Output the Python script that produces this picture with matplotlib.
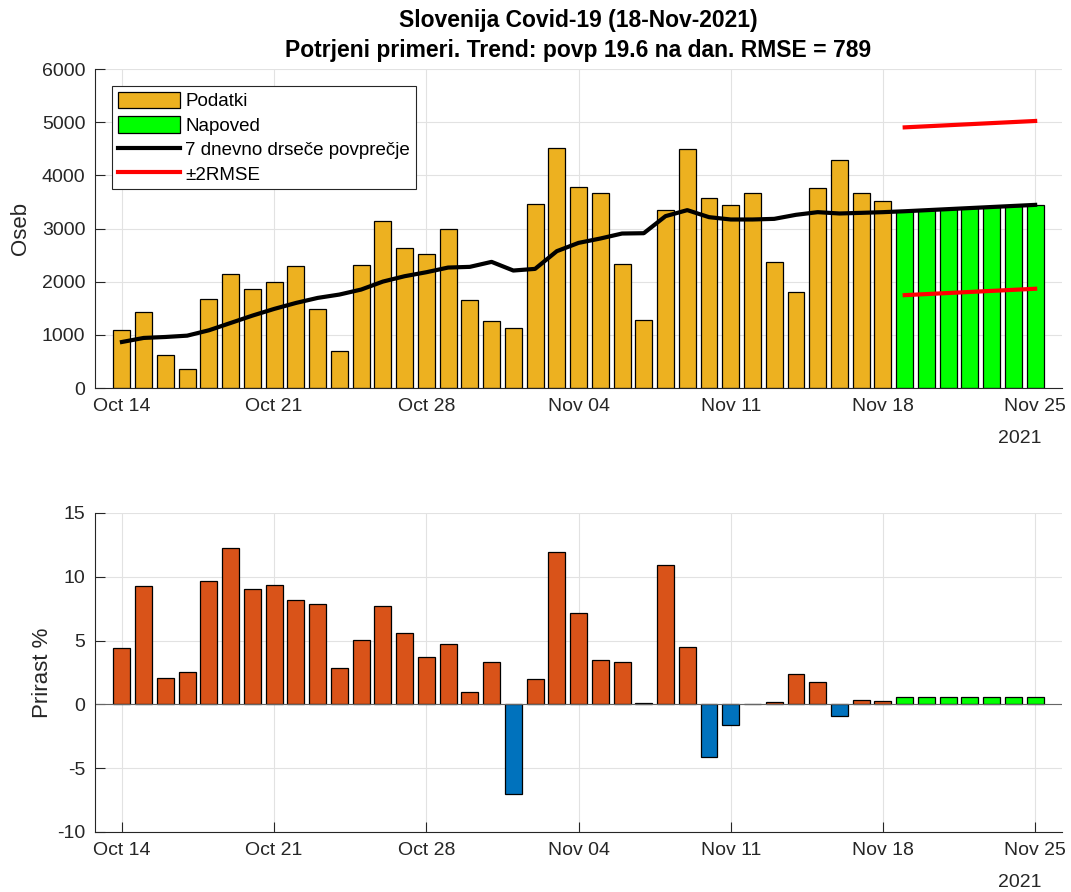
import matplotlib
matplotlib.use("Agg")
import matplotlib.pyplot as plt
import matplotlib.dates as mdates
import numpy as np
import pandas as pd

plt.rcParams['font.family'] = ['Liberation Sans', 'DejaVu Sans']
plt.rcParams['axes.unicode_minus'] = False

# Data
dates = pd.date_range("2021-10-14", "2021-11-18", freq="D")
fc_dates = pd.date_range("2021-11-19", "2021-11-25", freq="D")

cases = [1098, 1425, 627, 363, 1680, 2141, 1864, 1996, 2298, 1488, 697, 2310,
         3141, 2634, 2527, 2993, 1662, 1256, 1136, 3460, 4514, 3785, 3672, 2335,
         1280, 3346, 4495, 3578, 3440, 3672, 2373, 1808, 3766, 4294, 3672, 3515]
forecast = [3325, 3345, 3365, 3385, 3405, 3425, 3445]
moving_avg = [866, 942, 960, 985, 1086, 1224, 1362, 1488, 1600, 1695, 1758, 1852,
              2002, 2103, 2178, 2266, 2279, 2373, 2210, 2241, 2574, 2730, 2812, 2906,
              2912, 3233, 3346, 3214, 3170, 3170, 3182, 3258, 3308, 3283, 3295, 3308]
rmse = 789

growth = [4.44, 9.30, 2.09, 2.56, 9.69, 12.28, 9.06, 9.35, 8.20, 7.89, 2.87, 5.07,
          7.73, 5.62, 3.74, 4.76, 0.99, 3.34, -7.05, 2.01, 11.96, 7.16, 3.50, 3.34,
          0.08, 10.95, 4.52, -4.10, -1.59, 0.0, 0.16, 2.35, 1.78, -0.89, 0.37, 0.29]
fc_growth = [0.55, 0.55, 0.55, 0.55, 0.55, 0.55, 0.55]

title = "Slovenija Covid-19 (18-Nov-2021)\nPotrjeni primeri. Trend: povp 19.6 na dan. RMSE = 789"

# colours (MATLAB defaults)
c_data = "#EDB120"
c_fc = "#00FF00"
c_pos = "#D95319"
c_neg = "#0072BD"
c_axis = "#262626"
c_grid = "#e2e2e2"

ticks = pd.date_range("2021-10-14", "2021-11-25", freq="7D")
x0 = mdates.date2num(dates[0]) - 1.24
x1 = mdates.date2num(fc_dates[-1]) + 1.24
width = 0.78


def style_axes(ax, yticks):
    ax.set_xlim(x0, x1)
    ax.set_xticks(ticks)
    ax.xaxis.set_major_formatter(mdates.DateFormatter("%b %d"))
    ax.set_yticks(yticks)
    ax.spines["top"].set_visible(False)
    ax.spines["right"].set_visible(False)
    for s in ("left", "bottom"):
        ax.spines[s].set_color(c_axis)
        ax.spines[s].set_linewidth(0.8)
    ax.tick_params(direction="in", length=7, width=0.8, colors=c_axis,
                   labelsize=14, pad=7)
    ax.grid(True, color=c_grid, linewidth=0.8)
    ax.set_axisbelow(True)
    ax.text(0.9566, -0.157, "2021", transform=ax.transAxes, ha="center",
            va="center", fontsize=14, color=c_axis)


fig = plt.figure(figsize=(10.71, 8.92), dpi=100)
ax1 = fig.add_axes([0.0887, 0.565, 0.903, 0.3576])
ax2 = fig.add_axes([0.0887, 0.0673, 0.903, 0.3576])

# top: cases + forecast
b1 = ax1.bar(dates, cases, width, color=c_data, edgecolor="black", linewidth=0.9)
b2 = ax1.bar(fc_dates, forecast, width, color=c_fc, edgecolor="black", linewidth=0.9)
ma_x = list(dates) + list(fc_dates)
l1, = ax1.plot(ma_x, moving_avg + forecast, color="black", linewidth=3)
fc = np.array(forecast)
l2, = ax1.plot(fc_dates, fc + 2 * rmse, color="red", linewidth=3)
ax1.plot(fc_dates, fc - 2 * rmse, color="red", linewidth=3)
ax1.set_ylim(0, 6000)
style_axes(ax1, range(0, 6001, 1000))
ax1.set_ylabel("Oseb", fontsize=16, color=c_axis, labelpad=8)
ax1.set_title(title, fontsize=16.5, fontweight="bold", pad=9, linespacing=1.35)
leg = ax1.legend([b1, b2, l1, l2],
                 ["Podatki", "Napoved", "7 dnevno drseče povprečje", "±2RMSE"],
                 loc="upper left", bbox_to_anchor=(0.0176, 0.9467),
                 borderaxespad=0, fontsize=13.5, fancybox=False,
                 edgecolor=c_axis, framealpha=1, handlelength=3.3,
                 handleheight=1.0, labelspacing=0.3, borderpad=0.3,
                 handletextpad=0.3)
leg.get_frame().set_linewidth(0.8)

# bottom: growth %
colors = [c_pos if g >= 0 else c_neg for g in growth]
ax2.bar(dates, growth, width, color=colors, edgecolor="black", linewidth=0.9)
ax2.bar(fc_dates, fc_growth, width, color=c_fc, edgecolor="black", linewidth=0.9)
ax2.axhline(0, color="#666666", linewidth=0.8, zorder=1.5)
ax2.set_ylim(-10, 15)
style_axes(ax2, range(-10, 16, 5))
ax2.set_ylabel("Prirast %", fontsize=16, color=c_axis, labelpad=3)

fig.savefig("out.png", dpi=100)
